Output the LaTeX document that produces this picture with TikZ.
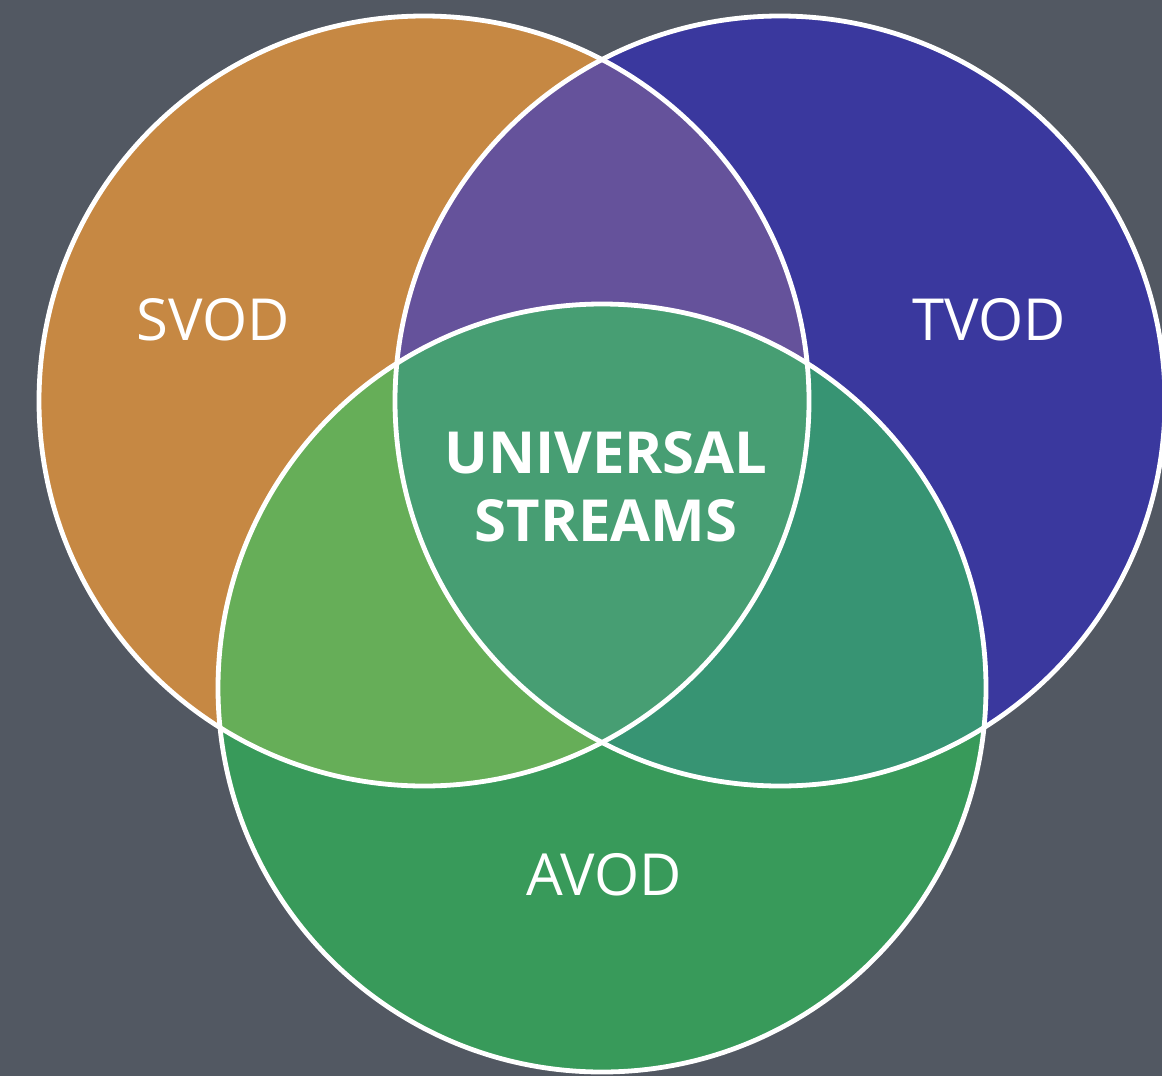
\documentclass[tikz,border=0pt]{standalone}
\usepackage{fontspec}
\setmainfont{Open Sans}
\usetikzlibrary{positioning}
\definecolor{bgray}{HTML}{525862}
\definecolor{svodc}{HTML}{C68843}
\definecolor{tvodc}{HTML}{3A389E}
\definecolor{avodc}{HTML}{389A5A}
\definecolor{stc}{HTML}{65529B}
\definecolor{sac}{HTML}{66AE58}
\definecolor{tac}{HTML}{379473}
\definecolor{univc}{HTML}{479E73}
\tikzset{
	ring/.style={draw=white, line width=4.8pt},
	lbl/.style={text=white, inner sep=0pt, font=\fontsize{58}{60}\selectfont},
	univ/.style={text=white, inner sep=0pt, align=center, font=\bfseries\fontsize{58}{68}\selectfont}
}
\begin{document}
\begin{tikzpicture}[x=1pt,y=-1pt]
			\fill[bgray] (0,0) rectangle (1162,1076);
			\useasboundingbox (0,0) rectangle (1162,1076);
			\coordinate (S) at (424,401);
			\coordinate (T) at (780,401);
			\coordinate (A) at (602,688);
			\fill[svodc] (S) circle (385pt);
			\fill[tvodc] (T) circle (385pt);
			\fill[avodc] (A) circle (384pt);
			\begin{scope}
				\clip (S) circle (385pt);
				\fill[stc] (T) circle (385pt);
				\fill[sac] (A) circle (384pt);
			\end{scope}
			\begin{scope}
				\clip (T) circle (385pt);
				\fill[tac] (A) circle (384pt);
			\end{scope}
			\begin{scope}
				\clip (S) circle (385pt);
				\clip (T) circle (385pt);
				\fill[univc] (A) circle (384pt);
			\end{scope}
			\draw[ring] (S) circle (385pt);
			\draw[ring] (T) circle (385pt);
			\draw[ring] (A) circle (384pt);
			\node[lbl] (svod) at (213,320) {SVOD};
			\node[lbl] (tvod) at (989,320) {TVOD};
			\node[lbl] (avod) at (604,875) {AVOD};
			\node[univ] (us) at (606,487) {UNIVERSAL\\STREAMS};
		\end{tikzpicture}
\end{document}
